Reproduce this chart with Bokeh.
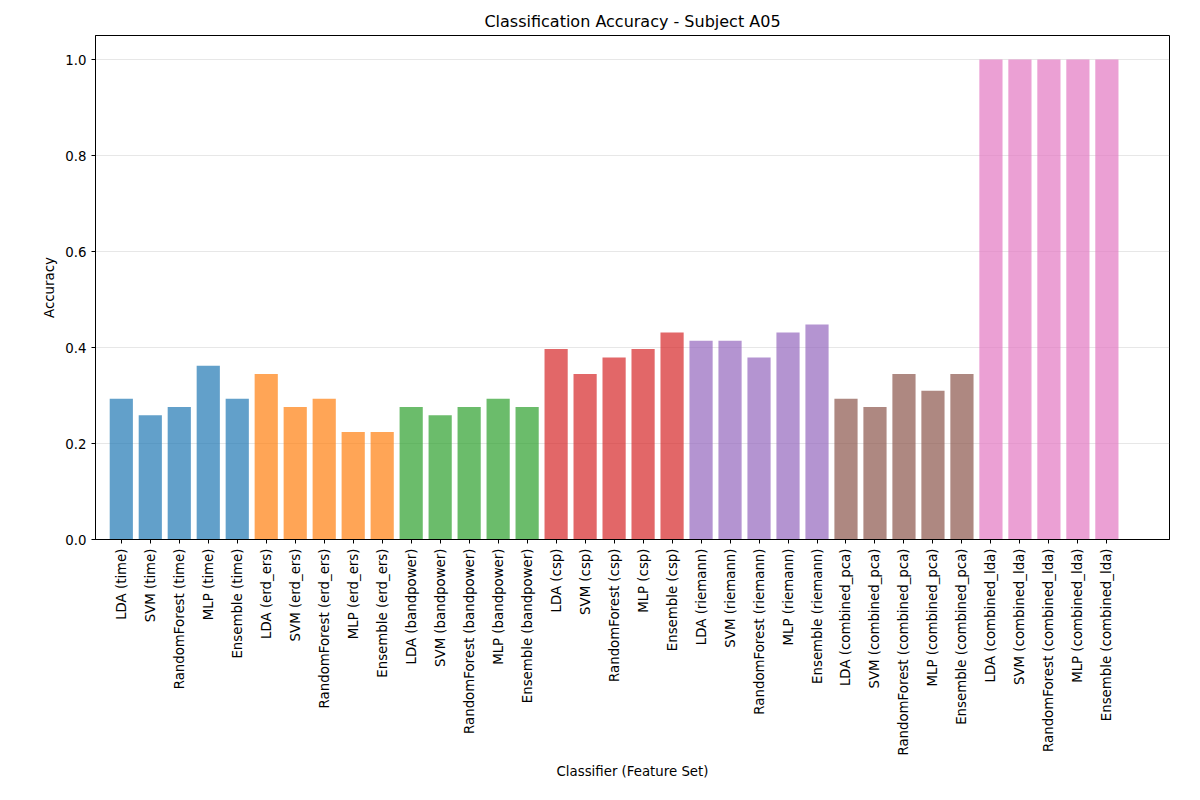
from bokeh.plotting import figure
from bokeh.models import FixedTicker, Range1d
from bokeh.embed import file_html
from bokeh.resources import INLINE

feature_sets = ["time", "erd_ers", "bandpower", "csp", "riemann", "combined_pca", "combined_lda"]
classifiers = ["LDA", "SVM", "RandomForest", "MLP", "Ensemble"]
accuracy = [
    0.293, 0.259, 0.276, 0.362, 0.293,
    0.345, 0.276, 0.293, 0.224, 0.224,
    0.276, 0.259, 0.276, 0.293, 0.276,
    0.397, 0.345, 0.379, 0.397, 0.431,
    0.414, 0.414, 0.379, 0.431, 0.448,
    0.293, 0.276, 0.345, 0.310, 0.345,
    1.0, 1.0, 1.0, 1.0, 1.0,
]
palette = ["#1f77b4", "#ff7f0e", "#2ca02c", "#d62728", "#9467bd", "#8c564b", "#e377c2"]

labels, colors = [], []
for fs, col in zip(feature_sets, palette):
    for c in classifiers:
        labels.append(f"{c} ({fs})")
        colors.append(col)
xs = list(range(len(labels)))

p = figure(width=1184, height=784, output_backend="svg", toolbar_location=None,
           title="Classification Accuracy - Subject A05",
           x_range=Range1d(-0.89, 36.16), y_range=Range1d(0, 1.05),
           min_border_left=95, min_border_right=15, min_border_top=35, min_border_bottom=245)
p.vbar(x=xs, top=accuracy, width=0.8, color=colors, fill_alpha=0.7, line_alpha=0)

p.title.align = "center"
p.title.text_font = "DejaVu Sans"
p.title.text_font_style = "normal"
p.title.text_font_size = "12pt"
p.title.text_color = "black"
p.xaxis.ticker = FixedTicker(ticks=xs)
p.xaxis.major_label_overrides = {i: l for i, l in enumerate(labels)}
p.xaxis.major_label_orientation = 1.5708
p.yaxis.ticker = FixedTicker(ticks=[0, 0.2, 0.4, 0.6, 0.8, 1.0])
p.yaxis.major_label_overrides = {0: "0.0", 0.2: "0.2", 0.4: "0.4", 0.6: "0.6", 0.8: "0.8", 1.0: "1.0"}
p.xaxis.axis_label = "Classifier (Feature Set)"
p.yaxis.axis_label = "Accuracy"
for ax in (p.xaxis, p.yaxis):
    ax.axis_label_text_font = "DejaVu Sans"
    ax.axis_label_text_font_style = "normal"
    ax.axis_label_text_font_size = "10pt"
    ax.axis_label_text_color = "black"
    ax.major_label_text_font = "DejaVu Sans"
    ax.major_label_text_font_size = "10pt"
    ax.major_label_text_color = "black"
    ax.axis_line_color = "black"
    ax.major_tick_line_color = "black"
    ax.minor_tick_line_color = None
    ax.major_tick_out = 4
    ax.major_tick_in = 0
p.xgrid.grid_line_color = None
p.ygrid.grid_line_color = "#b0b0b0"
p.ygrid.grid_line_alpha = 0.3
p.outline_line_color = "black"
p.outline_line_alpha = 1

open("out.html", "w").write(file_html(p, INLINE))
